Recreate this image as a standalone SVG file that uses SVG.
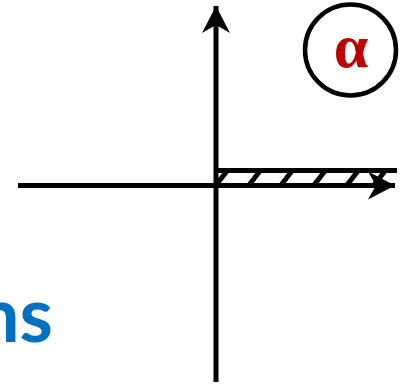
<svg xmlns="http://www.w3.org/2000/svg" width="407" height="384" viewBox="0 0 407 384">
<style>
.ax{stroke:#000;stroke-width:5;fill:none}
.h{stroke:#000;stroke-width:5;fill:none}
</style>
<defs>
<marker id="ah" markerUnits="userSpaceOnUse" markerWidth="32" markerHeight="32" refX="27" refY="14" orient="auto">
<path d="M0,0 L27,14 L0,28 L8,14 Z" fill="#000"/>
</marker>
</defs>
<g id="connectors">
<line class="ax" x1="18" y1="185.5" x2="395" y2="185.5" marker-end="url(#ah)"/>
<line class="ax" x1="216" y1="382" x2="216" y2="6" marker-end="url(#ah)"/>
</g>
<g id="hatch">
<line class="ax" x1="216" y1="170.5" x2="397" y2="170.5"/>
<path class="h" d="M216,185 L227,171 M249,185 L260,171 M281,185 L292,171 M314,185 L325,171 M347,185 L358,171 M374,185 L385,171"/>
</g>
<g id="alpha">
<circle cx="350.5" cy="50" r="45.5" fill="#fff" stroke="#000" stroke-width="4.5"/>
<text x="351" y="67" font-family="Liberation Serif, serif" font-weight="bold" font-size="62" fill="#c00000" text-anchor="middle">α</text>
</g>
<g id="label">
<text x="53" y="342" font-family="Lato, sans-serif" font-weight="bold" font-size="76" fill="#0070c0" text-anchor="end">ns</text>
</g>
</svg>
